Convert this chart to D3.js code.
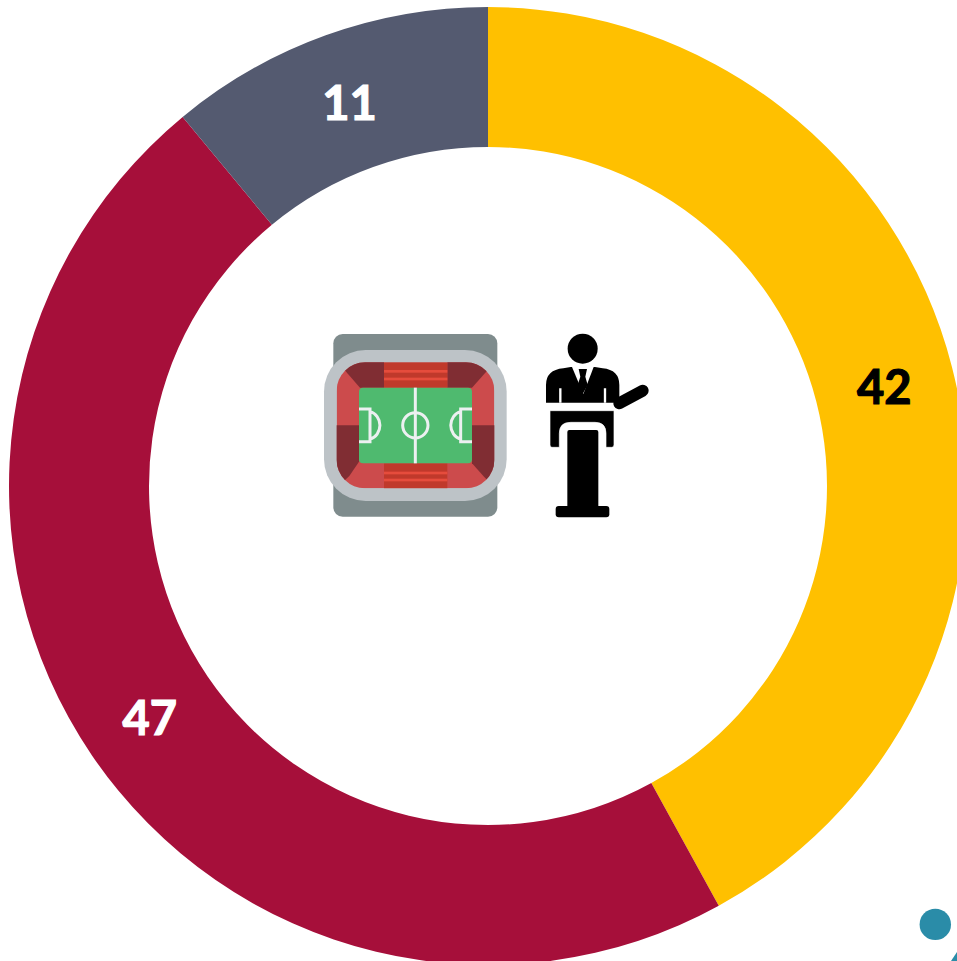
<!DOCTYPE html>
<html>
<head>
<meta charset="utf-8">
<script src="https://cdn.jsdelivr.net/npm/d3@7"></script>
<style>
    html, body { margin: 0; padding: 0; background: #fff; overflow: hidden; }
    svg { display: block; }
</style>
</head>
<body>
<svg id="drawing_region"></svg>
<script>
const categories = ["Yellow", "Crimson", "Slate"];
const values = [42, 47, 11];
const colors = ["#FFC000", "#A60F3A", "#545A70"];
const labelColors = ["#000000", "#ffffff", "#ffffff"];

const config = { width: 957, height: 961, cx: 488, cy: 486, outer: 479, inner: 339 };

const svg = d3.select("#drawing_region")
    .attr("width", config.width)
    .attr("height", config.height);

const pie = d3.pie().sort(null).value(d => d.value);
const arc = d3.arc().innerRadius(config.inner).outerRadius(config.outer);
const table = categories.map((c, i) => ({ category: c, value: values[i], fill: colors[i], label: labelColors[i] }));

const chart = svg.append("g")
    .attr("transform", `translate(${config.cx}, ${config.cy})`);

chart.selectAll("path").data(pie(table)).enter()
    .append("path")
    .attr("d", arc)
    .attr("fill", d => d.data.fill);

chart.selectAll("text").data(pie(table)).enter()
    .append("text")
    .attr("transform", d => `translate(${arc.centroid(d)})`)
    .attr("dy", "0.41em")
    .attr("text-anchor", "middle")
    .attr("font-family", "Lato, 'Open Sans', sans-serif")
    .attr("font-weight", "bold")
    .attr("font-size", "47px")
    .attr("fill", d => d.data.label)
    .attr("stroke", d => d.data.label)
    .attr("stroke-width", 1.2)
    .text(d => d.data.value);

// Stadium icon, drawn in the coordinates of a 3x crop
const stadium = svg.append("g")
    .attr("transform", "translate(310, 320) scale(0.33333)");

stadium.append("clipPath").attr("id", "seats")
    .append("rect")
    .attr("x", 80).attr("y", 127).attr("width", 473).attr("height", 378).attr("rx", 85);

stadium.append("rect")
    .attr("x", 70).attr("y", 42).attr("width", 492).attr("height", 548).attr("rx", 28)
    .attr("fill", "#7F8C8D");
stadium.append("rect")
    .attr("x", 42).attr("y", 90).attr("width", 548).attr("height", 453).attr("rx", 125)
    .attr("fill", "#BDC3C7");

const seats = stadium.append("g").attr("clip-path", "url(#seats)");
seats.append("rect")
    .attr("x", 80).attr("y", 127).attr("width", 473).attr("height", 378)
    .attr("fill", "#CC4B4C");

const darkBlocks = [
    "222,120 222,203 150,203 112,160 80,120",
    "412,120 412,203 486,203 520,165 560,120",
    "486,316 560,316 560,510 520,468 486,430",
    "73,316 147,316 147,425 118,468 73,510"
];
seats.selectAll("polygon").data(darkBlocks).enter()
    .append("polygon")
    .attr("points", d => d)
    .attr("fill", "#802D33");

[127, 430].forEach(y => {
    seats.append("rect")
        .attr("x", 222).attr("y", y).attr("width", 190).attr("height", 76)
        .attr("fill", "#C0392B");
});
[150, 173, 455, 476].forEach(y => {
    seats.append("rect")
        .attr("x", 222).attr("y", y).attr("width", 190).attr("height", 8)
        .attr("fill", "#E64C3C");
});

stadium.append("rect")
    .attr("x", 147).attr("y", 203).attr("width", 339).attr("height", 227).attr("rx", 12)
    .attr("fill", "#4FBA6F");

const fieldLines = stadium.append("g")
    .attr("fill", "none")
    .attr("stroke", "#ECF0F1")
    .attr("stroke-width", 9);
fieldLines.append("path").attr("d", "M316,203 V430");
fieldLines.append("circle").attr("cx", 316).attr("cy", 316).attr("r", 38);
fieldLines.append("path").attr("d", "M147,267 H180 V365 H147 M180,275 A38,42 0 0 1 180,357");
fieldLines.append("path").attr("d", "M486,267 H452 V365 H486 M452,275 A38,42 0 0 0 452,357");

// Speaker icon, same crop scale
const speaker = svg.append("g")
    .attr("transform", "translate(530, 320) scale(0.33333)");

speaker.append("circle").attr("cx", 158).attr("cy", 86).attr("r", 45);
speaker.append("path")
    .attr("d", "M48,248 V195 Q48,150 100,145 L122,141 H195 L218,145 Q268,150 268,195 V248 Z");
speaker.append("path")
    .attr("d", "M126,141 H191 L160,222 Z")
    .attr("fill", "#fff");
speaker.append("path")
    .attr("d", "M146,147 H171 L166,170 L173,195 L158,222 L143,195 L151,170 Z");
speaker.append("path")
    .attr("d", "M91,248 V205 M225,248 V205")
    .attr("stroke", "#fff").attr("stroke-width", 7);
speaker.append("path")
    .attr("d", "M268,250 L338,212")
    .attr("stroke", "#000").attr("stroke-width", 36).attr("stroke-linecap", "round");
speaker.append("path")
    .attr("d", "M60,272 H252 V375 Q252,382 245,382 H228 V340 Q228,307 195,307 H122 Q88,307 88,340 V382 H66 Q60,382 60,375 Z")
    .attr("stroke", "#fff").attr("stroke-width", 2);
speaker.append("rect")
    .attr("x", 112).attr("y", 330).attr("width", 93).attr("height", 235).attr("rx", 6);
speaker.append("rect")
    .attr("x", 77).attr("y", 558).attr("width", 161).attr("height", 34).attr("rx", 9);

// Page decoration in the bottom right corner
svg.append("circle")
    .attr("cx", 935.3).attr("cy", 924.4).attr("r", 15.7)
    .attr("fill", "#2A8CA8");
svg.append("polygon")
    .attr("points", "957,952 957,961 951,961")
    .attr("fill", "#2A8CA8");
</script>
</body>
</html>
